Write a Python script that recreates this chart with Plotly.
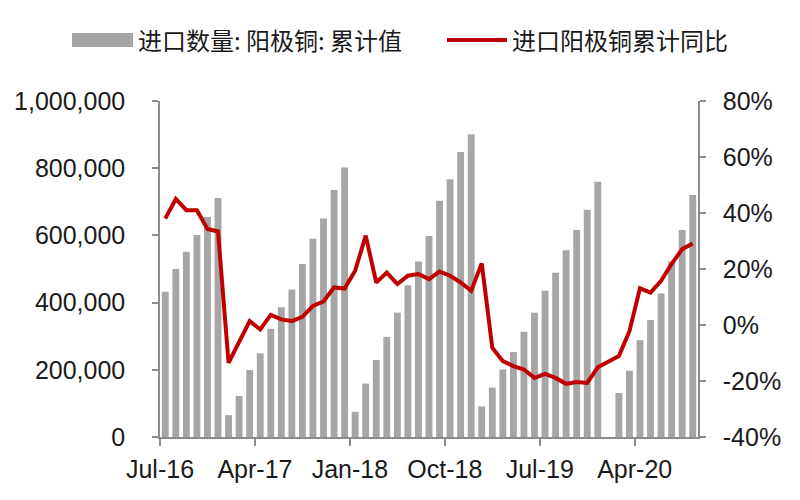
import plotly.graph_objects as go

months = [
    "Jul-16", "Aug-16", "Sep-16", "Oct-16", "Nov-16", "Dec-16",
    "Jan-17", "Feb-17", "Mar-17", "Apr-17", "May-17", "Jun-17",
    "Jul-17", "Aug-17", "Sep-17", "Oct-17", "Nov-17", "Dec-17",
    "Jan-18", "Feb-18", "Mar-18", "Apr-18", "May-18", "Jun-18",
    "Jul-18", "Aug-18", "Sep-18", "Oct-18", "Nov-18", "Dec-18",
    "Jan-19", "Feb-19", "Mar-19", "Apr-19", "May-19", "Jun-19",
    "Jul-19", "Aug-19", "Sep-19", "Oct-19", "Nov-19", "Dec-19",
    "Jan-20", "Feb-20", "Mar-20", "Apr-20", "May-20", "Jun-20",
    "Jul-20", "Aug-20", "Sep-20",
]

import_volume = [
    432000, 500000, 551000, 601000, 655000, 711000,
    65000, 122000, 199000, 249000, 322000, 386000,
    439000, 515000, 590000, 650000, 735000, 802000,
    75000, 159000, 229000, 298000, 370000, 452000,
    522000, 598000, 703000, 767000, 848000, 901000,
    91000, 147000, 201000, 253000, 313000, 370000,
    435000, 489000, 556000, 616000, 676000, 760000,
    None, 131000, 197000, 288000, 348000, 427000,
    522000, 616000, 720000,
]

yoy_pct = [
    38.0, 45.0, 41.0, 41.0, 34.3, 33.4,
    -13.5, -5.7, 1.4, -1.6, 3.6, 2.0,
    1.4, 2.9, 6.8, 8.4, 13.4, 13.0,
    19.4, 31.9, 15.2, 18.7, 14.6, 17.6,
    18.2, 16.4, 19.1, 17.6, 15.2, 12.2,
    22.0, -8.1, -12.9, -14.7, -15.9, -18.9,
    -17.5, -18.9, -21.0, -20.4, -20.7, -15.1,
    -13.2, -11.1, -2.2, 13.1, 11.6, 15.8,
    21.8, 27.1, 29.1,
]

x_tick_labels = ["Jul-16", "Apr-17", "Jan-18", "Oct-18", "Jul-19", "Apr-20"]
left_tick_values = [0, 200000, 400000, 600000, 800000, 1000000]
left_tick_labels = ["0", "200,000", "400,000", "600,000", "800,000", "1,000,000"]
right_tick_values = [-0.4, -0.2, 0.0, 0.2, 0.4, 0.6, 0.8]
right_tick_labels = ["-40%", "-20%", "0%", "20%", "40%", "60%", "80%"]

bar_name = "进口数量: 阳极铜: 累计值"
line_name = "进口阳极铜累计同比"

BAR_COLOR = "#A6A6A6"
LINE_COLOR = "#C00000"
AXIS_COLOR = "#8C8C8C"
NUM_FONT = "Liberation Sans, Arial, sans-serif"
CJK_FONT = "Noto Sans CJK SC, sans-serif"

x_idx = list(range(len(months)))
tick_pos = [months.index(m) - 0.5 for m in x_tick_labels]

fig = go.Figure()
fig.add_trace(go.Bar(
    x=x_idx, y=import_volume, name=bar_name,
    marker=dict(color=BAR_COLOR, line=dict(width=0)),
    customdata=months, showlegend=False, yaxis="y",
))
fig.add_trace(go.Scatter(
    x=x_idx, y=[v / 100 for v in yoy_pct], name=line_name,
    mode="lines", line=dict(color=LINE_COLOR, width=4),
    customdata=months, showlegend=False, yaxis="y2",
))

fig.update_layout(
    width=800, height=500, autosize=False,
    margin=dict(l=160, r=102, t=101, b=63),
    paper_bgcolor="white", plot_bgcolor="white",
    bargap=0.35,
    font=dict(family=NUM_FONT, size=25, color="#1a1a1a"),
    xaxis=dict(
        range=[-0.5, len(months) - 0.5],
        tickmode="array", tickvals=tick_pos, ticktext=x_tick_labels,
        showgrid=False, zeroline=False,
        showline=True, linecolor=AXIS_COLOR, linewidth=1.5,
        ticks="outside", ticklen=7, tickcolor=AXIS_COLOR, tickwidth=1.5,
        ticklabelstandoff=2,
    ),
    yaxis=dict(
        range=[0, 1000000],
        tickmode="array", tickvals=left_tick_values, ticktext=left_tick_labels,
        showgrid=False, zeroline=False,
        showline=True, linecolor=AXIS_COLOR, linewidth=1.5,
        ticks="outside", ticklen=6, tickcolor=AXIS_COLOR, tickwidth=1.5,
        ticklabelstandoff=22,
    ),
    yaxis2=dict(
        range=[-0.4, 0.8],
        tickmode="array", tickvals=right_tick_values, ticktext=right_tick_labels,
        overlaying="y", side="right",
        showgrid=False, zeroline=False,
        showline=True, linecolor=AXIS_COLOR, linewidth=1.5,
        ticks="outside", ticklen=6, tickcolor=AXIS_COLOR, tickwidth=1.5,
        ticklabelstandoff=12,
    ),
    showlegend=False,
)

# Custom legend (swatches + text) to match the wide rectangle swatch
fig.add_shape(type="rect", xref="paper", yref="paper",
              x0=(72 - 160) / 538, x1=(133 - 160) / 538,
              y0=(437 - 47) / 336, y1=(437 - 33) / 336,
              fillcolor=BAR_COLOR, line=dict(width=0))
fig.add_shape(type="line", xref="paper", yref="paper",
              x0=(447 - 160) / 538, x1=(507 - 160) / 538,
              y0=(437 - 40) / 336, y1=(437 - 40) / 336,
              line=dict(color=LINE_COLOR, width=4))
fig.add_annotation(text=bar_name, xref="paper", yref="paper",
                   x=(136 - 160) / 538, y=(437 - 40) / 336,
                   xanchor="left", yanchor="middle", showarrow=False,
                   font=dict(family=CJK_FONT, size=24, color="#1a1a1a"))
fig.add_annotation(text=line_name, xref="paper", yref="paper",
                   x=(510 - 160) / 538, y=(437 - 40) / 336,
                   xanchor="left", yanchor="middle", showarrow=False,
                   font=dict(family=CJK_FONT, size=24, color="#1a1a1a"))

fig.write_html("out.html", config={"displayModeBar": False},
               post_script="document.body.style.margin='0';")
